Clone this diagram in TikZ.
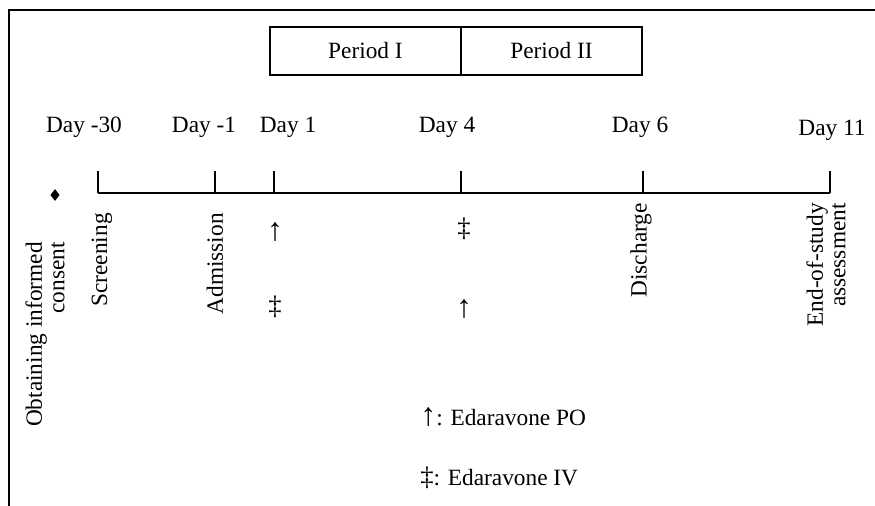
\documentclass[tikz,border=0pt]{standalone}
\usepackage{fontspec}
\setmainfont{Liberation Serif}
\usetikzlibrary{shapes.geometric}
\newcommand\poarrow{{\fontsize{24}{24}\selectfont ↑}}
\newcommand\ivdagger{{\fontsize{20}{20}\selectfont ‡}}

\begin{document}
\begin{tikzpicture}[x = 0.75pt, y = -0.75pt, font = \fontsize{17.5}{21}\selectfont,
		timeline/.style = {line width = 1.5pt},
		period/.style = {draw, line width = 1.5pt, minimum height = 36pt, inner sep = 0pt, outer sep = 0pt},
		day/.style = {inner sep = 0pt},
		event/.style = {rotate = 90, anchor = east, align = right, inner sep = 0pt, font = \fontsize{17.5}{17}\selectfont},
		dose/.style = {inner sep = 0pt}]
	\useasboundingbox (0,0) rectangle (875,506);
	\draw[line width = 1.1pt] (9,506) -- (9,10) -- (875,10);
	% periods
	\node[period, minimum width = 143.25pt] (P1) at (365.5,51) {Period I};
	\node[period, minimum width = 135.75pt, anchor = west] (P2) at (P1.east) {Period II};
	% time line
	\coordinate (T30) at (98,193);
	\coordinate (Tm1) at (215,193);
	\coordinate (T1) at (274,193);
	\coordinate (T4) at (461,193);
	\coordinate (T6) at (643,193);
	\coordinate (T11) at (830,193);
	\draw[timeline] (T30) -- (T11);
	\foreach \t in {T30, Tm1, T1, T4, T6, T11}
		\draw[timeline] (\t) -- ++(0,-22);
	\node[day] (D30) at (84,127) {Day -30};
	\node[day] (Dm1) at (204,127) {Day -1};
	\node[day] (D1) at (288,127) {Day 1};
	\node[day] (D4) at (447,127) {Day 4};
	\node[day] (D6) at (640,127) {Day 6};
	\node[day] (D11) at (832,130) {Day 11};
	% events
	\node[diamond, fill, inner sep = 0pt, minimum width = 7pt, minimum height = 9pt] (dot) at (55,195) {};
	\node[event] (consent) at (45,242) {Obtaining informed\\consent};
	\node[event] (screen) at (102,213) {Screening};
	\node[event] (admit) at (215,213) {Admission};
	\node[event] (disch) at (641,203) {Discharge};
	\node[event] (eos) at (826,203) {End-of-study\\assessment};
	% doses
	\node[dose] (po1) at (275,232) {\poarrow};
	\node[dose] (iv1) at (275,307) {\ivdagger};
	\node[dose] (iv4) at (464,229) {\ivdagger};
	\node[dose] (po4) at (464,309) {\poarrow};
	\node[dose, anchor = base west] (keyPO) at (420,425) {\poarrow: Edaravone PO};
	\node[dose, anchor = base west] (keyIV) at (420,485) {\ivdagger: Edaravone IV};
\end{tikzpicture}
\end{document}
